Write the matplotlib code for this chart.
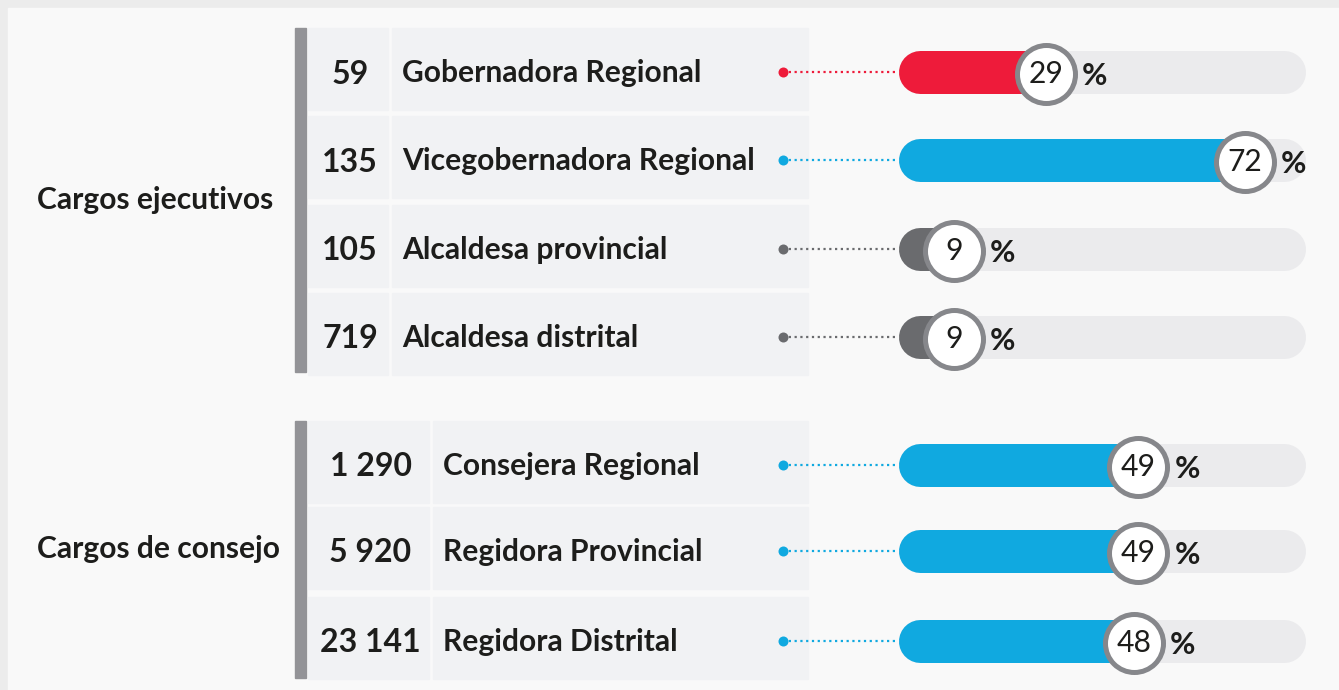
import matplotlib
matplotlib.use("Agg")
import matplotlib.pyplot as plt
from matplotlib.patches import Rectangle

# ---------------- data ----------------
group_names = ["Cargos ejecutivos", "Cargos de consejo"]
exec_counts = ["59", "135", "105", "719"]
exec_labels = ["Gobernadora Regional", "Vicegobernadora Regional",
               "Alcaldesa provincial", "Alcaldesa distrital"]
exec_pct = [29, 72, 9, 9]
council_counts = ["1 290", "5 920", "23 141"]
council_labels = ["Consejera Regional", "Regidora Provincial", "Regidora Distrital"]
council_pct = [49, 49, 48]
exec_colors = ["#ee1b3a", "#10a9e0", "#6a6b6e", "#6a6b6e"]
council_colors = ["#10a9e0", "#10a9e0", "#10a9e0"]

# ---------------- figure ----------------
W, H = 1339, 690
fig = plt.figure(figsize=(W / 100, H / 100), dpi=100, facecolor="#ececec")
lay = fig.add_axes([0, 0, 1, 1])
lay.set_xlim(0, W)
lay.set_ylim(H, 0)
lay.axis("off")

# value axis for bars: value -> pixel  (px = 912.3 + 4.616*v)
PX0, PXPER = 912.3, 4.616
bax = fig.add_axes([0, 0, 1, 1], facecolor="none")
bax.set_xlim((0 - PX0) / PXPER, (W - PX0) / PXPER)
bax.set_ylim(H, 0)
bax.axis("off")

def px2v(px):
    return (px - PX0) / PXPER

lay.add_patch(Rectangle((8, 8), W - 8, H - 8, color="#f9f9f9", zorder=0))

BOLD = "Lato"
PT = 0.72  # px -> pt
INK = "#1d1d1b"

groups = [
    dict(name=group_names[0], counts=exec_counts, labels=exec_labels, pct=exec_pct,
         colors=exec_colors, centers=[72, 160, 249, 337], num_x1=388, lab_x0=392,
         name_y=200, top=28, bottom=372),
    dict(name=group_names[1], counts=council_counts, labels=council_labels, pct=council_pct,
         colors=council_colors, centers=[465, 551, 641], num_x1=429, lab_x0=433,
         name_y=549, top=421, bottom=678),
]

TRACK_L, TRACK_R, BAR_H = 898, 1305, 43
CIRC_R = 29

for g in groups:
    lay.add_patch(Rectangle((295, g["top"]), 11, g["bottom"] - g["top"], color="#939397", zorder=1))
    lay.text(37, g["name_y"], g["name"], fontsize=30 * PT, fontweight="bold", family=BOLD,
             color=INK, ha="left", va="center")
    for i, yc in enumerate(g["centers"]):
        top = yc - 44
        hgt = 82
        lay.add_patch(Rectangle((308, top), g["num_x1"] - 308, hgt, color="#f1f2f4", zorder=1))
        lay.add_patch(Rectangle((g["lab_x0"], top), 808 - g["lab_x0"], hgt, color="#f1f2f4", zorder=1))
        lay.text((308 + g["num_x1"]) / 2 + 2, yc + 2, g["counts"][i], fontsize=32 * PT, fontweight="bold",
                 family=BOLD, color=INK, ha="center", va="center", zorder=3)
        lay.text(g["lab_x0"] + 10, yc + 1, g["labels"][i], fontsize=30 * PT, fontweight="bold",
                 family=BOLD, color=INK, ha="left", va="center", zorder=3)

        col = g["colors"][i]
        v = g["pct"][i]
        bax.plot([px2v(783), px2v(TRACK_L)], [yc, yc], color=col, lw=1.6, ls=(0, (1, 1.6)), zorder=2)
        bax.scatter([px2v(783)], [yc], s=(10 * PT) ** 2, color=col, zorder=3, linewidths=0)
        bax.plot([px2v(TRACK_L + BAR_H / 2), px2v(TRACK_R - BAR_H / 2)], [yc, yc], color="#ebebed",
                 lw=BAR_H * PT, solid_capstyle="round", zorder=2)
        bax.plot([px2v(TRACK_L + BAR_H / 2), v], [yc, yc], color=col,
                 lw=BAR_H * PT, solid_capstyle="round", zorder=3)
        cy = yc + 2
        bax.scatter([v], [cy], s=(2 * CIRC_R * PT) ** 2, facecolor="white", edgecolor="#86878b",
                    linewidths=5 * PT, zorder=4)
        bax.text(v, cy, str(v), fontsize=30 * PT, fontweight="normal", family="Lato",
                 color=INK, ha="center", va="center", zorder=5)
        bax.text(v + px2v(PX0 + CIRC_R + 7), cy + 2, "%", fontsize=31 * PT, fontweight="bold",
                 family=BOLD, color=INK, ha="left", va="center", zorder=5)

fig.savefig("out.png", dpi=100, facecolor=fig.get_facecolor())
